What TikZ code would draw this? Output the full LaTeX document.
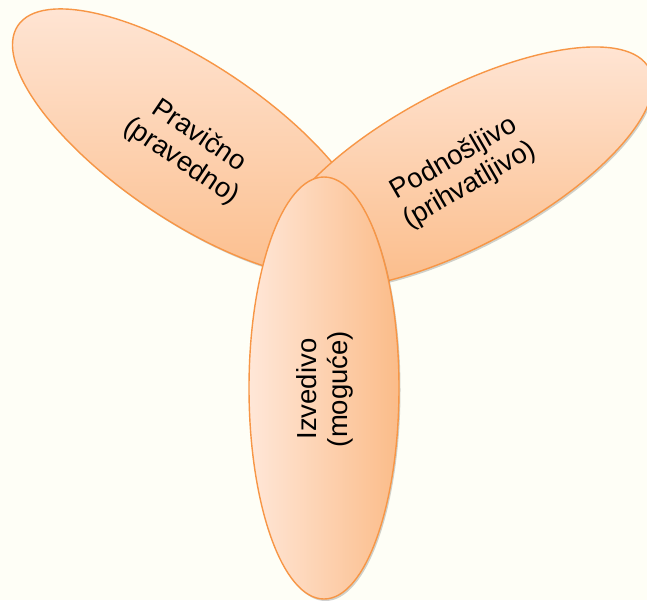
\documentclass[tikz,border=0pt]{standalone}
\usepackage{fontspec}
\setmainfont{Liberation Sans}
\usetikzlibrary{shapes.geometric,shadows}
\definecolor{bgc}{RGB}{254,254,246}
\definecolor{edgeorange}{RGB}{247,150,70}
\definecolor{lightpeach}{RGB}{255,231,216}
\definecolor{darkpeach}{RGB}{251,188,137}
\tikzset{
  petal/.style={ellipse, draw=edgeorange, line width=1.4pt, inner sep=0pt,
    drop shadow={shadow xshift=1.5pt, shadow yshift=-2pt, opacity=0.18, fill=black}},
  lbl/.style={align=center, font=\fontsize{27.5}{31}\selectfont, text=black, inner sep=0pt}
}
\begin{document}
\begin{tikzpicture}[x=1pt,y=-1pt]
\fill[bgc] (0,0) rectangle (647,600);
\useasboundingbox (0,0) rectangle (647,600);
\node[petal, minimum width=420pt, minimum height=156pt, rotate=-34,
      top color=lightpeach, bottom color=darkpeach] (left) at (192,143) {};
\node[petal, minimum width=424pt, minimum height=156pt, rotate=28,
      top color=lightpeach, bottom color=darkpeach] (right) at (462,168) {};
\node[petal, minimum width=150pt, minimum height=422pt,
      left color=lightpeach, right color=darkpeach] (bottom) at (324,388) {};
\node[lbl, rotate=-34] (tl) at (190,149) {Pravično\\(pravedno)};
\node[lbl, rotate=30] (tr) at (462,172) {Podnošljivo\\(prihvatljivo)};
\node[lbl, rotate=90] (tb) at (325,389) {Izvedivo\\(moguće)};
\end{tikzpicture}
\end{document}
